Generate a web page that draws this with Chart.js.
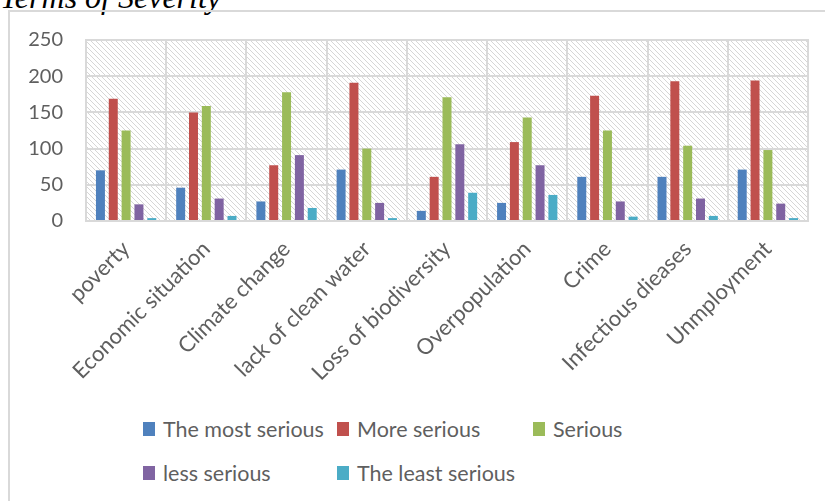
<!DOCTYPE html>
<html>
<head>
<meta charset="utf-8">
<script src="https://cdn.jsdelivr.net/npm/chart.js@4/dist/chart.umd.min.js"></script>
<style>
  html, body { margin: 0; padding: 0; background: #fff; }
  #wrap { position: relative; width: 825px; height: 501px; overflow: hidden; font-family: Lato, sans-serif; }
  #title { position: absolute; left: 0; top: -21px; font: italic 32px "Liberation Serif", serif; color: #000; white-space: nowrap; }
  #frame { position: absolute; left: 8px; top: 10px; width: 840px; height: 520px; border: 2px solid #d9d9d9; box-sizing: border-box; }
  #chart { position: absolute; left: 0; top: 0; }
  #legend { position: absolute; left: 143px; top: 414px; display: grid; grid-template-columns: 194px 196px 160px; row-gap: 14px; }
  .item { display: flex; align-items: center; font-size: 21.5px; color: #5f5f5f; height: 30px; white-space: nowrap; }
  .sw { width: 12px; height: 14px; margin-right: 8px; }
</style>
</head>
<body>
<div id="wrap">
  <div id="title">Terms of Severity</div>
  <div id="frame"></div>
  <canvas id="chart" width="825" height="400"></canvas>
  <div id="legend"></div>
</div>
<script>
const categories = ['poverty', 'Economic situation', 'Climate change', 'lack of clean water',
  'Loss of biodiversity', 'Overpopulation', 'Crime', 'Infectious dieases', 'Unmployment'];

const seriesNames = ['The most serious', 'More serious', 'Serious', 'less serious', 'The least serious'];
const seriesColors = ['#4f81bd', '#c0504d', '#9bbb59', '#8064a2', '#4bacc6'];

const mostSerious  = [70, 46, 27, 71, 14, 25, 61, 61, 71];
const moreSerious  = [169, 150, 77, 191, 61, 109, 173, 193, 194];
const serious      = [125, 159, 178, 100, 171, 143, 125, 104, 98];
const lessSerious  = [23, 31, 91, 25, 106, 77, 27, 31, 24];
const leastSerious = [4, 7, 18, 4, 39, 36, 6, 7, 4];

const yTicks = [0, 50, 100, 150, 200, 250];

const seriesValues = [mostSerious, moreSerious, serious, lessSerious, leastSerious];

// light diagonal hatch behind the plot area
function hatchPattern(ctx) {
  const c = document.createElement('canvas');
  c.width = 5; c.height = 5;
  const g = c.getContext('2d');
  g.fillStyle = '#ffffff';
  g.fillRect(0, 0, 5, 5);
  g.strokeStyle = '#d6d6d6';
  g.lineWidth = 1;
  g.beginPath();
  g.moveTo(0, 0); g.lineTo(5, 5);
  g.moveTo(-1, 4); g.lineTo(1, 6);
  g.moveTo(4, -1); g.lineTo(6, 1);
  g.stroke();
  return ctx.createPattern(c, 'repeat');
}

const hatchPlugin = {
  id: 'hatch',
  beforeDraw(chart) {
    const { ctx, chartArea: a } = chart;
    ctx.save();
    ctx.fillStyle = hatchPattern(ctx);
    ctx.fillRect(a.left, a.top, a.right - a.left, a.bottom - a.top);
    ctx.restore();
  }
};

new Chart(document.getElementById('chart'), {
  type: 'bar',
  data: {
    labels: categories,
    datasets: seriesNames.map((name, i) => ({
      label: name,
      data: seriesValues[i],
      backgroundColor: seriesColors[i],
      barPercentage: 0.7,
      categoryPercentage: 0.8
    }))
  },
  options: {
    responsive: false,
    animation: false,
    layout: { padding: { top: 40, right: 17, left: 0, bottom: 0 } },
    plugins: {
      legend: { display: false },
      tooltip: { enabled: false }
    },
    scales: {
      x: {
        offset: true,
        grid: { color: '#d9d9d9', lineWidth: 2, offset: true, drawTicks: false },
        border: { color: '#d9d9d9', width: 2 },
        ticks: {
          color: '#5f5f5f',
          font: { family: 'Lato', size: 22 },
          maxRotation: 45,
          minRotation: 45,
          padding: 15
        },
        afterFit(scale) { scale.height = 179; }
      },
      y: {
        min: 0,
        max: 250,
        grid: { color: '#d9d9d9', lineWidth: 2, drawTicks: false },
        border: { display: false },
        afterBuildTicks(scale) { scale.ticks = yTicks.map(v => ({ value: v })); },
        ticks: {
          color: '#5f5f5f',
          font: { family: 'Lato', size: 20 },
          padding: 23
        },
        afterFit(scale) { scale.width = 86; }
      }
    }
  },
  plugins: [hatchPlugin, {
    id: 'plotBorder',
    afterDraw(chart) {
      const { ctx, chartArea: a } = chart;
      ctx.save();
      ctx.strokeStyle = '#d9d9d9';
      ctx.lineWidth = 2;
      ctx.strokeRect(a.left, a.top, a.right - a.left, a.bottom - a.top);
      ctx.restore();
    }
  }]
});

const legend = document.getElementById('legend');
seriesNames.forEach((name, i) => {
  const item = document.createElement('div');
  item.className = 'item';
  item.innerHTML = '<span class="sw" style="background:' + seriesColors[i] + '"></span>' + name;
  legend.appendChild(item);
});
</script>
</body>
</html>
